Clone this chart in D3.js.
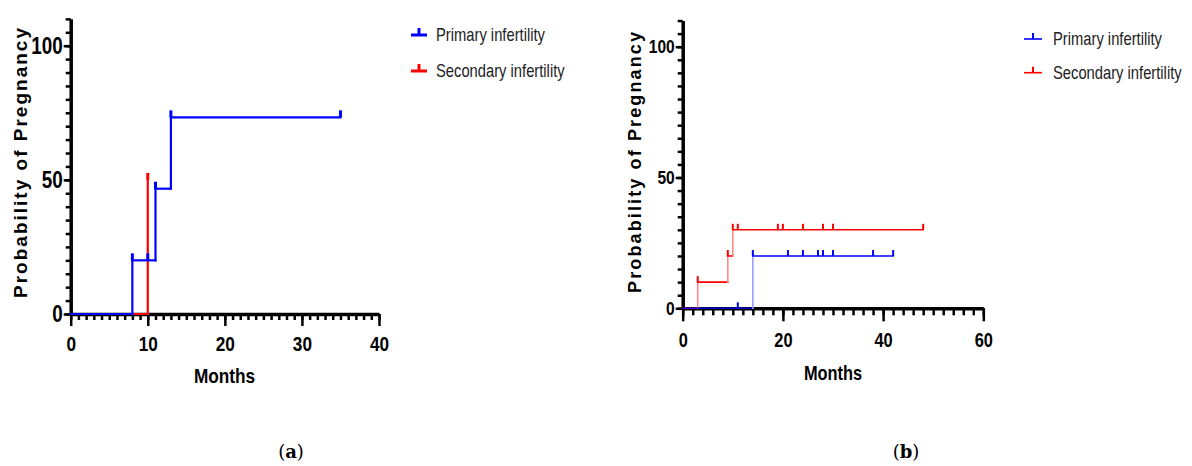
<!DOCTYPE html>
<html>
<head>
<meta charset="utf-8">
<script src="https://cdn.jsdelivr.net/npm/d3@7"></script>
<style>
  body { margin: 0; background: #fff; }
  svg { display: block; }
  .narrow { font-family: "Liberation Sans Narrow", "Liberation Sans", Arial, sans-serif; }
  .wide { font-family: "Liberation Sans", Arial, sans-serif; }
</style>
</head>
<body>
<svg id="mysvg" width="1192" height="466"></svg>
<script>
// panel (a): Kaplan-Meier steps (months, % pregnant)
var aPrimaryTimes = [0, 8, 11, 13, 35];
var aPrimaryValues = [0, 20, 46.7, 73.3, 73.3];
var aPrimaryCensored = [8, 10, 11, 13, 35];
var aSecondaryTimes = [0, 10];
var aSecondaryValues = [0, 50];
var aSecondaryCensored = [10];

// panel (b)
var bPrimaryTimes = [0, 14, 42];
var bPrimaryValues = [0, 20, 20];
var bPrimaryCensored = [11, 14, 21, 24, 27, 28, 30, 38, 42];
var bSecondaryTimes = [0, 3, 9, 10, 48];
var bSecondaryValues = [0, 10, 20, 30, 30];
var bSecondaryCensored = [3, 9, 10, 11, 19, 20, 24, 28, 30, 48];

var seriesNames = ["Primary infertility", "Secondary infertility"];
var xTicksA = [0, 10, 20, 30, 40];
var xTicksB = [0, 20, 40, 60];
var yTicks = [0, 50, 100];
var yTitle = "Probability of Pregnancy";
var xTitle = "Months";

var svg = d3.select("#mysvg");

// no narrow font installed: squeeze glyphs horizontally around their x
function condense(sel, f) {
    sel.each(function() {
        var t = d3.select(this);
        var x0 = +t.attr("x") || 0;
        t.attr("x", 0).attr("transform", "translate(" + x0 + ",0) scale(" + f + ",1)");
    });
}

function valueAt(times, values, t) {
    var v = values[0];
    for (var i = 0; i < times.length; i++) {
        if (times[i] <= t) v = values[i];
    }
    return v;
}

function drawSeries(g, x, y, times, values, censored, color, vColor, p) {
    var segs = [];
    for (var i = 0; i < times.length - 1; i++) {
        segs.push({x1: times[i], y1: values[i], x2: times[i + 1], y2: values[i], h: true});
        if (values[i + 1] !== values[i]) {
            segs.push({x1: times[i + 1], y1: values[i], x2: times[i + 1], y2: values[i + 1], h: false});
        }
    }
    g.append("g").selectAll("line")
        .data(segs)
        .enter().append("line")
        .attr("x1", function(d) { return x(d.x1); })
        .attr("x2", function(d) { return x(d.x2); })
        .attr("y1", function(d) { return y(d.y1); })
        .attr("y2", function(d) { return y(d.y2); })
        .attr("stroke", function(d) { return d.h ? color : vColor; })
        .attr("stroke-opacity", function(d) { return (d.h && d.y1 === 0) ? p.zeroOpacity : 1; })
        .attr("stroke-width", p.lineWidth)
        .attr("stroke-linecap", "square");

    g.append("g").selectAll("line")
        .data(censored)
        .enter().append("line")
        .attr("x1", function(d) { return x(d); })
        .attr("x2", function(d) { return x(d); })
        .attr("y1", function(d) { return y(valueAt(times, values, d)); })
        .attr("y2", function(d) { return y(valueAt(times, values, d)) - p.censorLen; })
        .attr("stroke", color)
        .attr("stroke-width", p.censorWidth);
}

function drawPanel(p) {
    var x = d3.scaleLinear().domain([0, p.xMax]).range([p.x0, p.x1]);
    var y = d3.scaleLinear().domain([0, 100]).range([p.y0, p.y100]);
    var yFull = d3.scaleLinear().domain([0, 110]).range([p.y0, y(110)]);

    var g = svg.append("g");

    // minor ticks
    g.append("g")
        .attr("transform", "translate(0," + p.y0 + ")")
        .call(d3.axisBottom(x).tickValues(d3.range(0, p.xMax + 0.01, p.xMinor)).tickSize(p.xMinorLen).tickSizeOuter(0).tickFormat(""))
        .call(function(a) { a.select(".domain").remove(); a.selectAll("line").attr("stroke-width", 2.5); });
    g.append("g")
        .attr("transform", "translate(" + p.x0 + ",0)")
        .call(d3.axisLeft(yFull).tickValues(d3.range(0, 111, 5)).tickSize(p.yMinorLen).tickSizeOuter(0).tickFormat(""))
        .call(function(a) { a.select(".domain").remove(); a.selectAll("line").attr("stroke-width", 2.5); });

    // major axes
    var xAxis = g.append("g")
        .attr("transform", "translate(0," + p.y0 + ")")
        .call(d3.axisBottom(x).tickValues(p.xTicks).tickSize(p.xMajorLen).tickSizeOuter(0).tickPadding(p.xPad));
    var yAxis = g.append("g")
        .attr("transform", "translate(" + p.x0 + ",0)")
        .call(d3.axisLeft(yFull).tickValues(yTicks).tickSize(p.yMajorLen).tickSizeOuter(0).tickPadding(p.yPad));

    [xAxis, yAxis].forEach(function(a) {
        a.select(".domain").attr("stroke-width", p.axisWidth);
        a.selectAll(".tick line").attr("stroke-width", 2.5);
        a.selectAll(".tick text")
            .attr("class", "narrow")
            .attr("fill", "#000")
            .attr("font-weight", "bold");
    });
    xAxis.selectAll(".tick text").attr("font-size", p.xLabelSize).call(condense, 0.82);
    yAxis.selectAll(".tick text").attr("font-size", p.yLabelSize).call(condense, 0.82);

    // series: secondary underneath, primary on top
    drawSeries(g, x, y, p.secTimes, p.secValues, p.secCensored, "#ff0000", p.redV, p);
    drawSeries(g, x, y, p.priTimes, p.priValues, p.priCensored, "#0000ff", p.blueV, p);

    // titles
    g.append("text")
        .attr("class", "narrow")
        .attr("x", p.xTitleX)
        .attr("y", p.xTitleY)
        .attr("text-anchor", "middle")
        .attr("font-weight", "bold")
        .attr("font-size", p.xTitleSize)
        .text(xTitle)
        .call(condense, 0.82);

    g.append("text")
        .attr("class", "wide")
        .attr("transform", "translate(" + p.yTitleX + "," + p.yTitleY + ") rotate(-90)")
        .attr("text-anchor", "middle")
        .attr("font-weight", "bold")
        .attr("font-size", p.yTitleSize)
        .attr("textLength", p.yTitleLen)
        .attr("lengthAdjust", "spacing")
        .text(yTitle);

    // legend
    var colors = ["#0000ff", "#ff0000"];
    var leg = g.append("g").selectAll("g")
        .data(seriesNames)
        .enter().append("g")
        .attr("transform", function(d, i) { return "translate(" + p.legX + "," + p.legY[i] + ")"; });
    leg.append("line")
        .attr("x1", 0).attr("x2", p.legW)
        .attr("stroke", function(d, i) { return colors[i]; })
        .attr("stroke-width", p.legLine);
    leg.append("line")
        .attr("x1", p.legW / 2).attr("x2", p.legW / 2)
        .attr("y1", 0).attr("y2", -p.censorLen)
        .attr("stroke", function(d, i) { return colors[i]; })
        .attr("stroke-width", p.censorWidth);
    leg.append("text")
        .attr("class", "narrow")
        .attr("x", p.legTextX)
        .attr("dy", "0.36em")
        .attr("font-size", p.legSize)
        .attr("fill", "#222")
        .text(function(d) { return d; })
        .call(condense, 0.82);

    // caption
    var cap = g.append("text")
        .attr("x", p.capX)
        .attr("y", 458)
        .attr("text-anchor", "middle")
        .attr("font-family", "'DejaVu Serif', 'Liberation Serif', serif")
        .attr("font-size", 18);
    cap.append("tspan").text("(");
    cap.append("tspan").attr("font-weight", "bold").text(p.capLetter);
    cap.append("tspan").text(")");
}

drawPanel({
    xMax: 40, x0: 70.7, x1: 379, y0: 314, y100: 45.7,
    xTicks: xTicksA, xMinor: 1, xMinorLen: 6, xMajorLen: 12, xPad: 10, yMinorLen: 5, yMajorLen: 7, yPad: 1,
    axisWidth: 3.5, xLabelSize: 21, yLabelSize: 23,
    priTimes: aPrimaryTimes, priValues: aPrimaryValues, priCensored: aPrimaryCensored,
    secTimes: aSecondaryTimes, secValues: aSecondaryValues, secCensored: aSecondaryCensored,
    redV: "#ff0000", blueV: "#0000ff", zeroOpacity: 1,
    lineWidth: 2.2, censorLen: 7, censorWidth: 3,
    xTitleX: 224.5, xTitleY: 383, xTitleSize: 21,
    yTitleX: 27, yTitleY: 163, yTitleSize: 19, yTitleLen: 270,
    legX: 411, legY: [35, 71], legW: 16, legLine: 3, legTextX: 25, legSize: 18,
    capX: 291, capLetter: "a"
});

drawPanel({
    xMax: 60, x0: 682.7, x1: 983.3, y0: 308.3, y100: 46.7,
    xTicks: xTicksB, xMinor: 2, xMinorLen: 7, xMajorLen: 13, xPad: 12, yMinorLen: 5, yMajorLen: 7, yPad: 1,
    axisWidth: 3.5, xLabelSize: 20, yLabelSize: 19,
    priTimes: bPrimaryTimes, priValues: bPrimaryValues, priCensored: bPrimaryCensored,
    secTimes: bSecondaryTimes, secValues: bSecondaryValues, secCensored: bSecondaryCensored,
    redV: "#ff8a8a", blueV: "#9a9aff", zeroOpacity: 0.8,
    lineWidth: 1.6, censorLen: 6, censorWidth: 2,
    xTitleX: 833, xTitleY: 380, xTitleSize: 20,
    yTitleX: 641, yTitleY: 162.5, yTitleSize: 18, yTitleLen: 261,
    legX: 1024, legY: [39, 72.7], legW: 18, legLine: 1.6, legTextX: 29, legSize: 18,
    capX: 906, capLetter: "b"
});
</script>
</body>
</html>
